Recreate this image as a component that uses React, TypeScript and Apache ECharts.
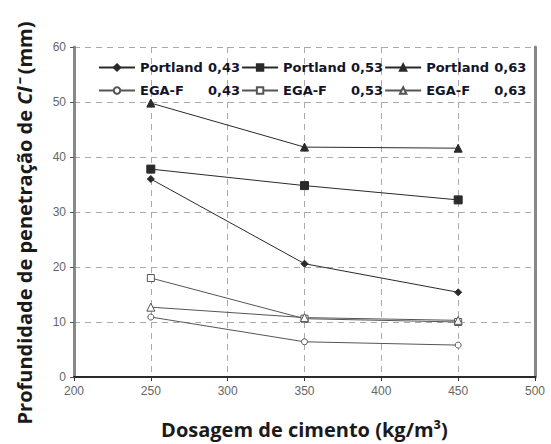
import React, { useEffect, useRef } from "react";
import * as echarts from "echarts";

const dosagem = [250, 350, 450];
const portland043 = [36, 20.6, 15.4];
const portland053 = [37.8, 34.8, 32.2];
const portland063 = [49.8, 41.8, 41.6];
const ega043 = [10.9, 6.4, 5.8];
const ega053 = [18, 10.6, 10.0];
const ega063 = [12.7, 10.8, 10.3];

const seriesNames = [
  "Portland 0,43",
  "Portland 0,53",
  "Portland 0,63",
  "EGA-F 0,43",
  "EGA-F 0,53",
  "EGA-F 0,63",
];
const seriesValues = [portland043, portland053, portland063, ega043, ega053, ega063];
const symbols = ["diamond", "rect", "triangle", "circle", "rect", "triangle"];
const symbolSizes = [7, 8, 8, 6, 7, 8];

export default function App() {
  const ref = useRef<HTMLDivElement>(null);
  useEffect(() => {
    document.body.style.margin = "0";
    const chart = echarts.init(ref.current!, undefined, { renderer: "svg" });
    const lineColor = "#2a2a2a";
    const series = seriesNames.map((name, i) => ({
      name,
      type: "line",
      data: dosagem.map((x, j) => [x, seriesValues[i][j]]),
      symbol: symbols[i],
      symbolSize: symbolSizes[i],
      showSymbol: true,
      itemStyle: { color: i >= 3 ? "#ffffff" : lineColor, borderColor: i >= 3 ? "#555" : lineColor, borderWidth: 1 },
      lineStyle: { color: i >= 3 ? "#555" : lineColor, width: 1 },
      z: 5,
    }));
    const txt = { fontFamily: "DejaVu Sans", fontWeight: "bold", fontSize: 13, color: "#141428" };
    const legendText = {
      ...txt,
      rich: {
        a: { ...txt, width: 68 },
        b: { ...txt },
      },
    };
    const fmt = (n: string) => {
      const k = n.lastIndexOf(" ");
      return `{a|${n.slice(0, k)}}{b|${n.slice(k + 1)}}`;
    };
    const legendBase = {
      left: 93,
      itemWidth: 36,
      itemHeight: 8,
      itemGap: 1,
      formatter: fmt,
      textStyle: legendText,
    };
    chart.setOption({
      animation: false,
      backgroundColor: "#ffffff",
      grid: { left: 74, right: 16, top: 47, bottom: 66 },
      legend: [
        { ...legendBase, data: seriesNames.slice(0, 3), top: 56 },
        { ...legendBase, data: seriesNames.slice(3), top: 79 },
      ],
      xAxis: [
        {
          type: "value",
          min: 200,
          max: 500,
          interval: 50,
          name: "Dosagem de cimento (kg/m³)",
          nameLocation: "middle",
          nameGap: 42,
          nameTextStyle: { fontFamily: "Open Sans", fontWeight: "bold", fontSize: 20, color: "#1a1a1a" },
          axisLine: { show: true, lineStyle: { color: "#111", width: 2 } },
          axisTick: { show: true, length: 4, lineStyle: { color: "#333" } },
          axisLabel: { fontFamily: "Liberation Sans", fontSize: 12, color: "#666", margin: 8 },
          splitLine: { show: true, lineStyle: { color: "#aaa", type: [6, 5], width: 1 } },
        },
        {
          type: "value",
          position: "top",
          min: 200,
          max: 500,
          interval: 50,
          axisLine: { show: true, lineStyle: { color: "#333", width: 1.5 } },
          axisTick: { show: false },
          axisLabel: { show: false },
          splitLine: { show: false },
        },
      ],
      yAxis: [
        {
          type: "value",
          min: 0,
          max: 60,
          interval: 10,
          name: "Profundidade de penetração de {i|Cl⁻} (mm)",
          nameLocation: "middle",
          nameGap: 40,
          nameTextStyle: {
            fontFamily: "Open Sans",
            fontWeight: "bold",
            fontSize: 20,
            color: "#1a1a1a",
            padding: [0, 22, 0, 0],
            rich: {
              i: { fontFamily: "Open Sans", fontWeight: "bold", fontStyle: "italic", fontSize: 20, color: "#1a1a1a" },
            },
          },
          axisLine: { show: true, lineStyle: { color: "#888", width: 3 } },
          axisTick: { show: true, length: 4, lineStyle: { color: "#555" } },
          axisLabel: { fontFamily: "Liberation Sans", fontSize: 12, color: "#666", margin: 8 },
          splitLine: { show: true, lineStyle: { color: "#aaa", type: [6, 5], width: 1 } },
        },
        {
          type: "value",
          position: "right",
          min: 0,
          max: 60,
          interval: 10,
          axisLine: { show: true, lineStyle: { color: "#888", width: 3 } },
          axisTick: { show: false },
          axisLabel: { show: false },
          splitLine: { show: false },
        },
      ],
      series,
    });
    return () => chart.dispose();
  }, []);
  return <div ref={ref} style={{ width: 551, height: 444 }} />;
}
